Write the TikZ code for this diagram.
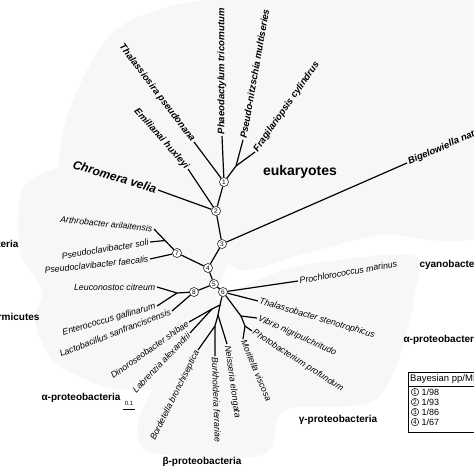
\documentclass[tikz,border=0pt]{standalone}
\usepackage{fontspec}
\setmainfont{Liberation Sans}
\definecolor{blobgray}{RGB}{246,247,247}
\tikzset{
  branch/.style={line width=1.2pt},
  clade/.style={circle,draw,fill=white,line width=0.5pt,inner sep=0pt,minimum size=9pt,font=\fontsize{6.5}{6.5}\selectfont},
  taxon/.style={font=\fontsize{8.8}{10}\selectfont\itshape,inner sep=1.5pt},
  euk/.style={font=\fontsize{9.5}{11}\selectfont\bfseries\itshape,inner sep=1.5pt},
  group/.style={font=\fontsize{10}{12}\selectfont\bfseries},
}
\begin{document}
\begin{tikzpicture}[x=1pt,y=-1pt]
        \useasboundingbox (0,0) rectangle (474,474);
        % Shading
        \fill[blobgray] plot[smooth cycle] coordinates {(62,200) (66,120) (110,35) (180,4) (300,-5) (490,-5) (490,225) (380,235) (300,255) (240,270) (190,236) (120,214)};
        \fill[blobgray] plot[smooth cycle] coordinates {(25,185) (90,164) (170,196) (225,250) (215,300) (205,335) (170,385) (110,388) (55,362) (35,322) (42,290) (20,250)};
        \fill[blobgray] plot[smooth cycle] coordinates {(195,318) (235,290) (300,266) (412,255) (415,292) (402,350) (372,402) (285,410) (262,455) (150,452) (140,415) (172,360)};

        % Clades
        \node[clade] (n1) at (224,182) {1};
        \node[clade] (n2) at (216,211) {2};
        \node[clade] (n3) at (222,244) {3};
        \node[clade] (n4) at (208,268) {4};
        \node[clade] (n5) at (214,284) {5};
        \node[clade] (n6) at (223,292) {6};
        \node[clade] (n7) at (177,253) {7};
        \node[clade] (n8) at (194,292) {8};
        \coordinate (jdia) at (236,166);
        \coordinate (jact) at (165,240.5);
        \coordinate (jfir) at (177,293);
        \coordinate (jg1) at (241,316);
        \coordinate (jg2) at (245,326);
        \coordinate (jb1) at (220,305);
        \coordinate (ja) at (212,309);
        \coordinate (jb2) at (218,315);
        \coordinate (jb3) at (215,326);

        % Eukaryotes
        \node[euk,rotate=90,anchor=west] (phaeo) at (222,136) {Phaeodactylum tricornutum};
        \node[euk,rotate=-53,anchor=east] (thal) at (194,142) {Thalassiosira pseudonana};
        \node[euk,rotate=80,anchor=west] (pseudo) at (243,140) {Pseudo-nitzschia multiseries};
        \node[euk,rotate=55,anchor=west] (fragil) at (255,152) {Fragilariopsis cylindrus};
        \node[euk,rotate=-48.5,anchor=east] (emil) at (188,169) {Emilianai huxleyi};
        \node[euk,rotate=-17,anchor=east,font=\fontsize{12}{14}\selectfont\bfseries\itshape] (chrom) at (158,190) {Chromera velia};
        \node[euk,rotate=23.5,anchor=west] (bigel) at (407,163) {Bigelowiella natans};
        \node[group,font=\fontsize{14}{16}\selectfont\bfseries] (eukl) at (300,172) {eukaryotes};

        % Bacteria
        \node[taxon,rotate=-6,anchor=east] (arth) at (154,229) {Arthrobacter arilaitensis};
        \node[taxon,rotate=9,anchor=east] (soli) at (150,242) {Pseudoclavibacter soli};
        \node[taxon,rotate=6,anchor=east] (faec) at (150,259) {Pseudoclavibacter faecalis};
        \node[taxon,anchor=east] (leuc) at (157,287) {Leuconostoc citreum};
        \node[taxon,rotate=16,anchor=east] (ente) at (157,306) {Enterococcus gallinarum};
        \node[taxon,rotate=21,anchor=east] (lacto) at (172,311) {Lactobacillus sanfranciscensis};
        \node[taxon,rotate=35,anchor=east] (dino) at (189,322) {Dinoroseobacter shibae};
        \node[taxon,rotate=46,anchor=east] (labr) at (190,333) {Labrenzia alexandrii};
        \node[taxon,rotate=63.5,anchor=east] (bord) at (198,350) {Bordetella bronchiseptica};
        \node[taxon,rotate=-88,anchor=west] (burk) at (215,356) {Burkholderia ferrariae};
        \node[taxon,rotate=-82,anchor=west] (neis) at (227,344) {Neisseria elongata};
        \node[taxon,rotate=-67,anchor=west] (mor) at (243,339) {Moritella viscosa};
        \node[taxon,rotate=-33,anchor=west] (phot) at (252,331) {Photobacterium profundum};
        \node[taxon,rotate=-24,anchor=west] (vib) at (257,318) {Vibrio nigripulchritudo};
        \node[taxon,rotate=-16.5,anchor=west] (thalb) at (258,301) {Thalassobacter stenotrophicus};
        \node[taxon,rotate=10,anchor=west] (proch) at (298,281) {Prochlorococcus marinus};

        % Groups
        \node[group,anchor=east] (actl) at (22,244) {Actinobacteria};
        \node[group,anchor=east] (firl) at (43,317) {Firmicutes};
        \node[group] (alphal) at (81,398) {α-proteobacteria};
        \node[group] (betal) at (202,462) {β-proteobacteria};
        \node[group] (gammal) at (338,420) {γ-proteobacteria};
        \node[group,anchor=west] (cyanl) at (416,265) {cyanobacteria};
        \node[group,anchor=west] (alphar) at (400,340) {α-proteobacteria};

        % Branches
        \draw[branch] (n1) -- (phaeo.west);
        \draw[branch] (n1) -- (thal.east);
        \draw[branch] (n1) -- (jdia) -- (pseudo.west);
        \draw[branch] (jdia) -- (fragil.west);
        \draw[branch] (n2) -- (n1);
        \draw[branch] (n2) -- (emil.east);
        \draw[branch] (n2) -- (chrom.east);
        \draw[branch] (n3) -- (n2);
        \draw[branch] (n3) -- (bigel.west);
        \draw[branch] (n4) -- (n3);
        \draw[branch] (n4) -- (n7);
        \draw[branch] (n7) -- (arth.east);
        \draw[branch] (jact) -- (soli.east);
        \draw[branch] (n7) -- (faec.east);
        \draw[branch] (n5) -- (n4);
        \draw[branch] (n5) -- (n8);
        \draw[branch] (n8) -- (jfir) -- (leuc.east);
        \draw[branch] (jfir) -- (ente.east);
        \draw[branch] (n8) -- (lacto.east);
        \draw[branch] (n5) -- (n6);
        \draw[branch] (n6) -- (proch.west);
        \draw[branch] (n6) -- (thalb.west);
        \draw[branch] (n6) -- (jg1) -- (vib.west);
        \draw[branch] (jg1) -- (jg2) -- (phot.west);
        \draw[branch] (jg2) -- (mor.west);
        \draw[branch] (n6) -- (jb1) -- (ja) -- (dino.east);
        \draw[branch] (ja) -- (labr.east);
        \draw[branch] (jb1) -- (jb2) -- (neis.west);
        \draw[branch] (jb2) -- (jb3) -- (burk.west);
        \draw[branch] (jb3) -- (bord.east);

        % Scale
        \node[font=\fontsize{6}{6}\selectfont,inner sep=1pt] (scl) at (129,403) {0.1};
        \coordinate (sca) at (123,409);
        \coordinate (scb) at (135,409);
        \draw[line width=1pt] (sca) -- (scb);

        % Legend
        \draw[fill=white,line width=0.6pt] (408,372) rectangle (490,432);
        \draw[line width=0.4pt] (408,386) -- (490,386);
        \node[anchor=west,font=\fontsize{9.5}{10}\selectfont,inner sep=1pt] (leghead) at (409,379) {Bayesian pp/ML bootstrap};
        \foreach \k/\v in {1/98,2/93,3/86,4/67} {
            \node[clade,minimum size=7.5pt] (leg\k) at (415,{382+10*\k}) {\k};
            \node[anchor=west,font=\fontsize{9}{10}\selectfont,inner sep=1pt] at ([xshift=1.5pt]leg\k.east) {1/\v};
        }
\end{tikzpicture}
\end{document}
